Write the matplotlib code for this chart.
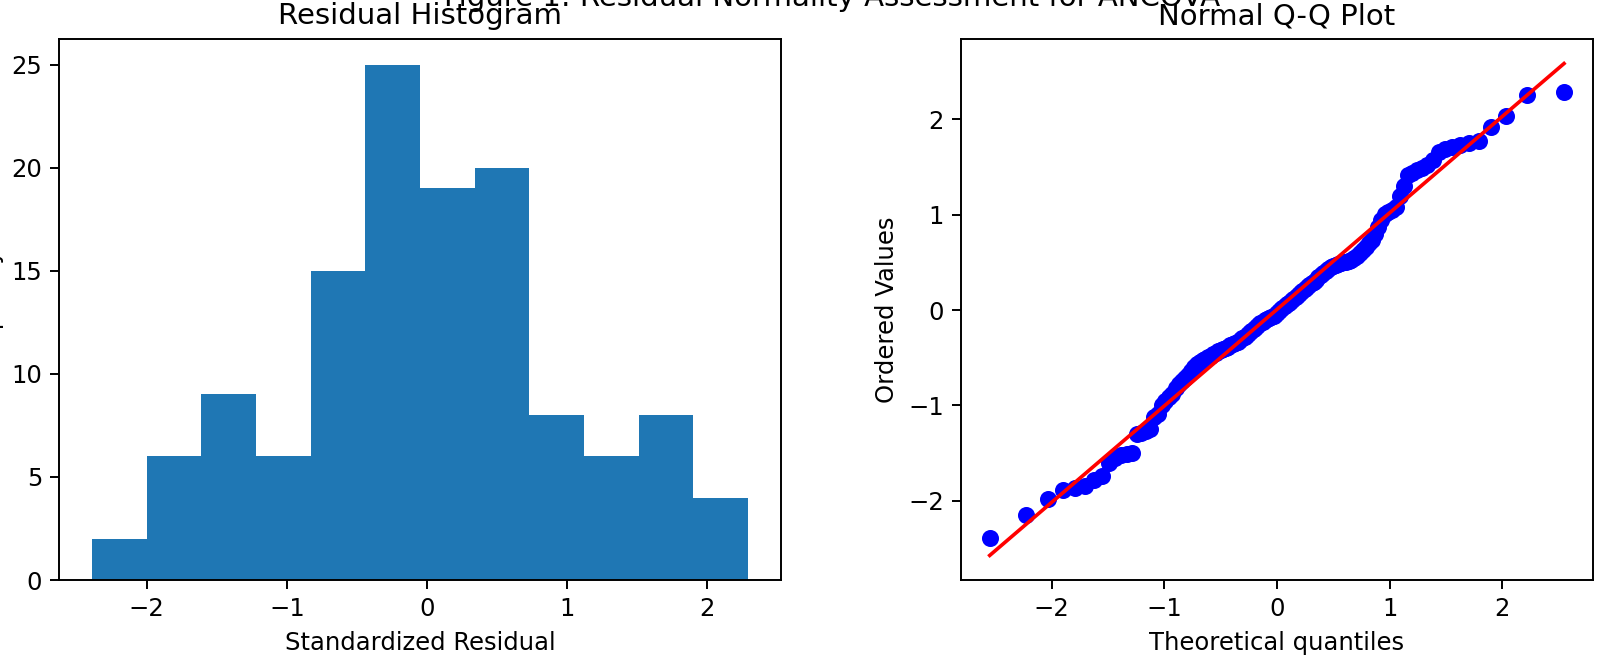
import matplotlib
matplotlib.use("Agg")
import matplotlib.pyplot as plt
import numpy as np
from statistics import NormalDist

# Standardized residuals (sorted)
residuals = [
    -2.39, -2.15,
    -1.98, -1.89, -1.87, -1.85, -1.78, -1.74,
    -1.60, -1.55, -1.52, -1.51, -1.50, -1.30, -1.29, -1.27, -1.25,
    -1.12, -1.09, -1.00, -0.95, -0.91, -0.88,
    -0.82, -0.78, -0.74, -0.71, -0.68, -0.64, -0.60, -0.57, -0.54, -0.52,
    -0.51, -0.49, -0.48, -0.46, -0.45,
    -0.43, -0.42, -0.41, -0.40, -0.39, -0.37, -0.36, -0.34, -0.33, -0.31,
    -0.29, -0.28, -0.26, -0.24, -0.22, -0.20, -0.18, -0.16, -0.14, -0.12,
    -0.10, -0.09, -0.08, -0.07, -0.06,
    -0.04, -0.02, 0.00, 0.02, 0.04, 0.06, 0.08, 0.10, 0.12, 0.14,
    0.16, 0.18, 0.20, 0.22, 0.24, 0.26, 0.28, 0.30, 0.32,
    0.35, 0.37, 0.39, 0.41, 0.43, 0.45, 0.46, 0.47, 0.48, 0.49,
    0.50, 0.51, 0.52, 0.53, 0.55, 0.57, 0.60, 0.63, 0.66, 0.70,
    0.74, 0.80, 0.87, 0.95, 1.01, 1.03, 1.05, 1.08,
    1.20, 1.30, 1.42, 1.44, 1.47, 1.49,
    1.52, 1.58, 1.66, 1.69, 1.71, 1.73, 1.75, 1.77,
    1.92, 2.04, 2.26, 2.29,
]
n_bins = 12

suptitle = "Figure 1: Residual Normality Assessment for ANCOVA"
hist_title = "Residual Histogram"
hist_xlabel = "Standardized Residual"
hist_ylabel = "Frequency"
qq_title = "Normal Q-Q Plot"
qq_xlabel = "Theoretical quantiles"
qq_ylabel = "Ordered Values"

DPI = 175
fig = plt.figure(figsize=(9.1430, 3.8402), dpi=DPI)

W, H = 1600.0, 672.0
ax1 = fig.add_axes([59.3 / W, 92 / H, 721.4 / W, 541 / H])
ax2 = fig.add_axes([961 / W, 92 / H, 631.7 / W, 541 / H])

# Histogram
ax1.hist(residuals, bins=n_bins)
ax1.set_title(hist_title)
ax1.set_xlabel(hist_xlabel)
ax1.set_ylabel(hist_ylabel)

# Q-Q plot (Filliben plotting positions, as in scipy.stats.probplot)
y = np.sort(np.asarray(residuals, dtype=float))
n = len(y)
m = np.empty(n)
m[-1] = 0.5 ** (1.0 / n)
m[0] = 1 - m[-1]
i = np.arange(2, n)
m[1:-1] = (i - 0.3175) / (n + 0.365)
nd = NormalDist()
osm = np.array([nd.inv_cdf(p) for p in m])
slope, intercept = np.polyfit(osm, y, 1)

ax2.plot(osm, y, "bo")
ax2.plot(osm, slope * osm + intercept, "r-")
ax2.set_title(qq_title)
ax2.set_xlabel(qq_xlabel)
ax2.set_ylabel(qq_ylabel)

fig.suptitle(suptitle, x=0.52, y=1 - 6 / H, va="baseline")

fig.savefig("out.png", dpi=DPI)
